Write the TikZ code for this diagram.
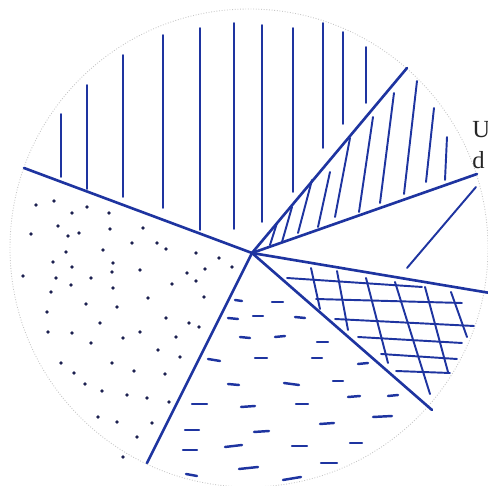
\documentclass[tikz,border=0pt]{standalone}
\usepackage{fontspec}
\setmainfont{Liberation Serif}
\usetikzlibrary{calc,positioning}

\definecolor{ink}{RGB}{30,52,160}
\definecolor{inkdark}{RGB}{28,32,80}
\tikzset{
  rim/.style={gray!45,line width=0.5pt,densely dotted},
  spoke/.style={ink,line width=1.5pt,line cap=round},
  hatch/.style={ink,line width=1.1pt,line cap=round},
  dashmark/.style={ink,line width=1.4pt,line cap=round},
  dotmark/.style={fill=inkdark,draw=none},
}

\begin{document}
\begin{tikzpicture}[x=0.02cm,y=-0.02cm]
  \useasboundingbox (0,0) rectangle (488,486);
  % outline
  \draw[rim] (249,248) circle[radius=239];
  % spokes
  \coordinate (O) at (252,253);
  \coordinate (e1) at (24,168);
  \coordinate (e2) at (407,68);
  \coordinate (e3) at (477,174);
  \coordinate (e4) at (490,293);
  \coordinate (e5) at (432,410);
  \coordinate (e6) at (147,463);
  \foreach \e in {e1,e2,e3,e4,e5,e6} \draw[spoke] (O) -- (\e);
  % top sector: vertical lines
  \foreach \x/\ya/\yb in {61/114/177,87/85/189,123/55/197,163/35/208,200/28/230,
      234/23/229,262/25/222,293/28/192,323/23/148,343/32/124,366/47/103}
    \draw[hatch] (\x,\ya) -- (\x,\yb);
  % slanted lines
  \foreach \xa/\ya/\xb/\yb in {270/245/277/223,282/242/292/207,298/233/312/180,
      318/227/330/172,335/217/350/138,359/212/373/117,380/203/394/93,
      404/194/417/81,426/182/434/108,445/180/447/137}
    \draw[hatch] (\xa,\ya) -- (\xb,\yb);
  % cross hatch
  \foreach \xa/\ya/\xb/\yb in {287/278/422/287,316/299/462/303,335/319/474/326,
      358/337/462/343,381/354/457/359,396/371/450/373}
    \draw[hatch] (\xa,\ya) -- (\xb,\yb);
  \foreach \xa/\ya/\xb/\yb in {311/268/320/309,337/271/348/330,366/278/388/363,
      395/282/430/394,425/287/448/372,451/292/467/337}
    \draw[hatch] (\xa,\ya) -- (\xb,\yb);
  % dashes
  \foreach \xa/\ya/\xb/\yb in {235/300/242/301,272/302/283/302,228/318/238/319,
      253/316/263/316,295/317/305/318,240/337/250/338,275/337/285/336,
      317/342/328/342,208/359/220/361,255/358/267/358,312/358/322/358,
      358/364/368/363,228/384/239/385,284/383/299/385,333/381/343/381,
      192/404/207/404,241/407/255/406,296/404/308/404,348/397/360/396,
      388/396/398/395,185/430/199/430,254/432/269/431,320/424/334/423,
      373/417/392/416,183/450/197/450,225/447/242/445,292/446/307/446,
      350/443/362/443,186/474/197/476,239/469/258/467,321/463/337/463,
      283/480/301/477}
    \draw[dashmark] (\xa,\ya) -- (\xb,\yb);
  % dots
  \foreach \x/\y in {36/205,54/201,72/213,87/207,109/213,58/226,31/234,68/236,
      79/233,110/229,143/228,132/243,157/243,166/249,103/250,66/252,53/262,
      113/263,140/270,196/253,219/258,232/267,205/269,187/273,196/281,72/267,
      112/272,23/276,56/278,91/278,71/285,113/288,172/284,51/292,148/298,
      204/297,86/304,117/307,47/312,166/318,189/323,199/327,100/323,48/332,
      72/333,140/332,176/337,123/338,91/343,158/350,180/357,61/363,112/363,
      74/373,134/371,165/374,85/384,102/391,127/395,147/398,169/402,98/417,
      117/422,152/423,137/437,123/457}
    \fill[dotmark] (\x,\y) circle[radius=1.8];
  % label
  \node[anchor=north west,inner sep=0pt,align=left,text=black!85,
    font=\fontsize{14}{17.5}\selectfont] (lbl) at (472,121) {U\\d};
  \coordinate (tip) at (476,187);
  \coordinate (lead) at (407,268);
  \draw[hatch] (lead) -- (tip);
\end{tikzpicture}
\end{document}
